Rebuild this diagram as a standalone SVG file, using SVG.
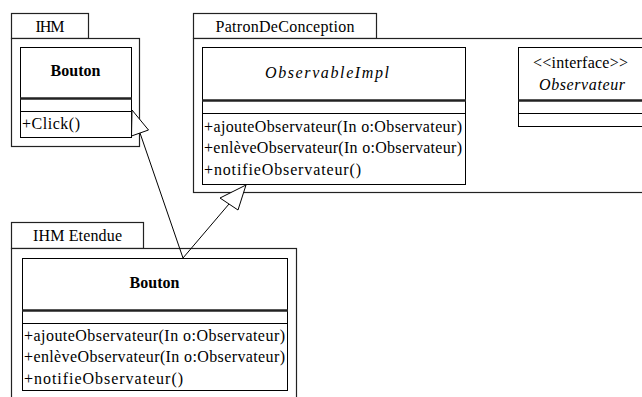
<svg xmlns="http://www.w3.org/2000/svg" width="642" height="397" viewBox="0 0 642 397">
<style>
.box{fill:#fff;stroke:#000;stroke-width:1}
.pkg{fill:#fff;stroke:#222;stroke-width:1.2}
.sep{stroke:#222;stroke-width:2.5}
.ln{stroke:#000;stroke-width:1}
.c{text-anchor:middle}
.b{font-weight:bold}
.i{font-style:italic}
.conn{fill:none;stroke:#000;stroke-width:1}
.tri{fill:#fff;stroke:#000;stroke-width:1}
</style>
<rect width="642" height="397" fill="#fff"/>
<g font-family="'Liberation Serif', 'DejaVu Serif', 'Times New Roman', serif" font-size="16" fill="#000">
<g id="pkg-IHM">
<rect class="pkg" x="11.5" y="13.5" width="77" height="25"/>
<rect class="pkg" x="11.5" y="38.5" width="128" height="108"/>
<text class="c" x="50" y="32" textLength="29" lengthAdjust="spacing">IHM</text>
</g>
<g id="IHM-Bouton">
<rect class="box" x="20.5" y="47.5" width="111" height="90"/>
<line class="sep" x1="20" y1="98.5" x2="132" y2="98.5"/>
<line class="ln" x1="20" y1="111.5" x2="132" y2="111.5"/>
<text class="c b" x="75.5" y="76">Bouton</text>
<text x="22" y="129" textLength="58" lengthAdjust="spacing">+Click()</text>
</g>

<g id="pkg-PatronDeConception">
<rect class="pkg" x="193.5" y="13.5" width="183" height="25"/>
<rect class="pkg" x="193.5" y="38.5" width="460" height="154"/>
<text class="c" x="285" y="32" textLength="139" lengthAdjust="spacing">PatronDeConception</text>
</g>
<g id="ObservableImpl">
<rect class="box" x="202.5" y="47.5" width="263" height="137"/>
<line class="sep" x1="202" y1="100.5" x2="466" y2="100.5"/>
<line class="ln" x1="202" y1="113.5" x2="466" y2="113.5"/>
<text class="c i" x="327" y="78" textLength="124" lengthAdjust="spacing">ObservableImpl</text>
<text x="204" y="132" textLength="258" lengthAdjust="spacing">+ajouteObservateur(In o:Observateur)</text>
<text x="204" y="153" textLength="258" lengthAdjust="spacing">+enlèveObservateur(In o:Observateur)</text>
<text x="204" y="175" textLength="157" lengthAdjust="spacing">+notifieObservateur()</text>
</g>
<g id="Observateur">
<rect class="box" x="518.5" y="47.5" width="140" height="79"/>
<line class="sep" x1="518" y1="100.5" x2="660" y2="100.5"/>
<line class="ln" x1="518" y1="113.5" x2="660" y2="113.5"/>
<text class="c" x="580.5" y="68" textLength="95" lengthAdjust="spacing">&lt;&lt;interface&gt;&gt;</text>
<text class="c i" x="582" y="90" textLength="86" lengthAdjust="spacing">Observateur</text>
</g>

<g id="pkg-IHMEtendue">
<rect class="pkg" x="11.5" y="222.5" width="132" height="26"/>
<rect class="pkg" x="11.5" y="248.5" width="285" height="160"/>
<text class="c" x="77.5" y="241" textLength="89" lengthAdjust="spacing">IHM Etendue</text>
</g>
<g id="IHMEtendue-Bouton">
<rect class="box" x="22.5" y="258.5" width="265" height="132"/>
<line class="sep" x1="22" y1="310.5" x2="288" y2="310.5"/>
<line class="ln" x1="22" y1="323.5" x2="288" y2="323.5"/>
<text class="c b" x="154.5" y="288">Bouton</text>
<text x="24" y="341" textLength="261" lengthAdjust="spacing">+ajouteObservateur(In o:Observateur)</text>
<text x="24" y="362" textLength="261" lengthAdjust="spacing">+enlèveObservateur(In o:Observateur)</text>
<text x="24" y="384" textLength="159" lengthAdjust="spacing">+notifieObservateur()</text>
</g>
</g>
<g id="connectors">
<line class="conn" x1="183" y1="258" x2="140" y2="133"/>
<polygon class="tri" points="132,110 148.5,130 131.5,136"/>
<line class="conn" x1="183" y1="258" x2="229" y2="204"/>
<polygon class="tri" points="246,185 238,210 220,198"/>
</g>
</svg>
